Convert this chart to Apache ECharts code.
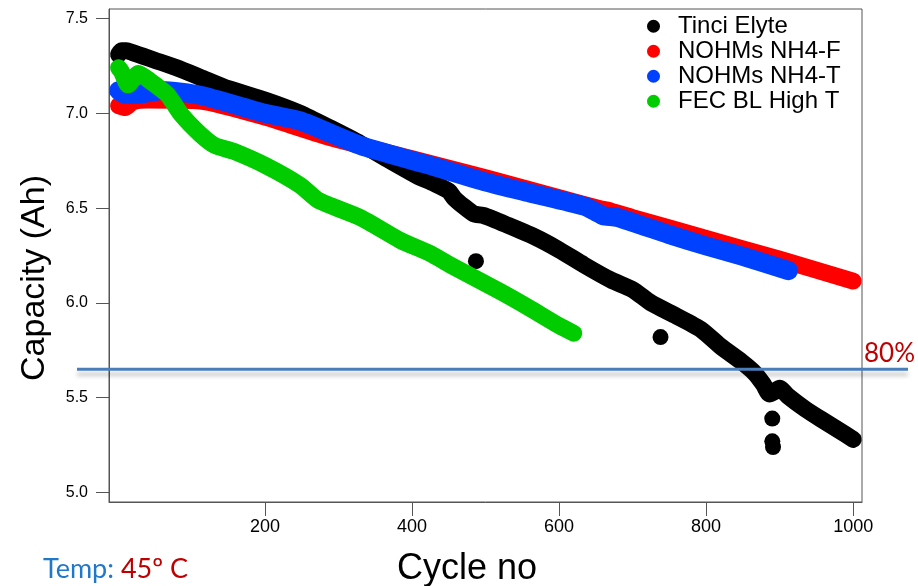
<!DOCTYPE html>
<html><head><meta charset="utf-8">
<script src="https://cdn.jsdelivr.net/npm/echarts@6/dist/echarts.min.js"></script>
<style>html,body{margin:0;padding:0;background:#fff}#c{width:918px;height:586px}</style>
</head><body><div id="c"></div>
<script>
// ---- data ----
const seriesNames = ['Tinci Elyte', 'NOHMs NH4-F', 'NOHMs NH4-T', 'FEC BL High T'];
const seriesColors = ['#000000', '#ff0000', '#0040ff', '#00cc00'];
const xTicks = [200, 400, 600, 800, 1000];
const yTicks = [5.0, 5.5, 6.0, 6.5, 7.0, 7.5];
const refLevel = 5.65;   // 80% line
const refLabel = '80%';

const tinciElyte = [[1,7.31],[5,7.33],[12,7.33],[20,7.32],[35,7.30],[50,7.28],[80,7.24],[112,7.19],[150,7.13],[200,7.07],[248,7.00],[290,6.92],[330,6.84],[370,6.75],[407,6.67],[430,6.63],[450,6.59],[458,6.55],[470,6.51],[484,6.47],[498,6.46],[530,6.41],[566,6.35],[600,6.28],[634,6.20],[671,6.12],[700,6.07],[725,6.00],[760,5.93],[793,5.86],[820,5.77],[848,5.69],[866,5.63],[878,5.57],[886,5.52],[892,5.53],[900,5.55],[911,5.51],[935,5.44],[957,5.385],[980,5.33],[1000,5.28]];
const tinciOutliers = [[487,6.22],[738,5.82],[890,5.39],[890,5.27],[891,5.24]];
const nohmsF = [[1,7.04],[10,7.03],[20,7.06],[40,7.07],[112,7.065],[200,6.98],[290,6.87],[400,6.76],[500,6.66],[600,6.555],[657,6.495],[665,6.49],[700,6.45],[800,6.34],[900,6.23],[1000,6.115]];
const nohmsT = [[1,7.12],[10,7.10],[25,7.10],[60,7.12],[112,7.095],[200,7.00],[248,6.96],[330,6.83],[420,6.73],[498,6.64],[560,6.58],[634,6.51],[650,6.48],[660,6.46],[680,6.45],[750,6.36],[800,6.30],[850,6.245],[912,6.17]];
const fecBL = [[1,7.24],[5,7.22],[14,7.15],[28,7.21],[44,7.17],[67,7.10],[87,6.99],[112,6.89],[132,6.83],[157,6.80],[203,6.72],[248,6.62],[273,6.54],[330,6.45],[384,6.33],[425,6.26],[452,6.20],[520,6.06],[561,5.97],[600,5.88],[620,5.84]];

// ---- chart ----
const FONT = "'Liberation Sans', Arial, sans-serif";
const chart = echarts.init(document.getElementById('c'), null, {renderer: 'canvas'});
function bandLine(name, data, color, width) {
  return {
    name, type: 'line', data, color, showSymbol: false, symbol: 'circle', silent: true, smooth: 0.2,
    lineStyle: {color, width, cap: 'round', join: 'round', opacity: 1},
    itemStyle: {color}
  };
}
const option = {
  animation: false,
  backgroundColor: '#ffffff',
  grid: {left: 109, right: 56, top: 9, bottom: 84, show: true, borderColor: '#555', borderWidth: 1},
  legend: {
    data: seriesNames, orient: 'vertical', left: 642, top: 9, icon: 'circle',
    itemWidth: 13, itemHeight: 13, itemGap: 0.5,
    textStyle: {fontFamily: FONT, fontSize: 24, color: '#000', lineHeight: 24.5, padding: [0, 0, 0, 13]}
  },
  xAxis: {
    type: 'value', min: -12, max: 1012,
    axisLine: {show: true, onZero: false, lineStyle: {color: '#555', width: 1}},
    axisTick: {show: true, length: 14, lineStyle: {color: '#555'}, customValues: xTicks},
    axisLabel: {customValues: xTicks, margin: 16, fontFamily: "'Liberation Sans Narrow', 'Liberation Sans', Arial", fontSize: 18, color: '#000', formatter: v => String(v)},
    splitLine: {show: false}
  },
  yAxis: {
    type: 'value', min: 4.95, max: 7.55,
    axisLine: {show: true, onZero: false, lineStyle: {color: '#555', width: 1}},
    axisTick: {show: true, length: 13, lineStyle: {color: '#555'}, customValues: yTicks},
    axisLabel: {customValues: yTicks, margin: 21, fontFamily: FONT, fontSize: 16, color: '#000', formatter: v => v.toFixed(1)},
    splitLine: {show: false}
  },
  series: [
    bandLine(seriesNames[0], tinciElyte, seriesColors[0], 17),
    {name: seriesNames[0], type: 'scatter', data: tinciOutliers, symbolSize: 16, silent: true, itemStyle: {color: seriesColors[0], opacity: 1}},
    bandLine(seriesNames[1], nohmsF, seriesColors[1], 17),
    bandLine(seriesNames[2], nohmsT, seriesColors[2], 19),
    bandLine(seriesNames[3], fecBL, seriesColors[3], 17)
  ]
};
chart.setOption(option);

const refY = chart.convertToPixel({yAxisIndex: 0}, refLevel);
chart.setOption({
  graphic: [
    {type: 'line', silent: true, z: 100,
     shape: {x1: 77, y1: refY, x2: 908, y2: refY},
     style: {stroke: '#4a7ebb', lineWidth: 3, shadowColor: 'rgba(0,0,0,0.25)', shadowBlur: 4, shadowOffsetY: 5}},
    {type: 'text', silent: true, z: 100, left: 864, top: refY - 29,
     style: {text: refLabel, fill: '#c00000', font: "26px Lato, 'Open Sans', sans-serif"}},
    {type: 'text', silent: true, x: 35, y: 278, rotation: Math.PI / 2,
     style: {text: 'Capacity (Ah)', fill: '#000', font: '34px ' + FONT, textAlign: 'center', textVerticalAlign: 'middle'}},
    {type: 'text', silent: true, x: 467, y: 569,
     style: {text: 'Cycle no', fill: '#000', font: '36px ' + FONT, textAlign: 'center', textVerticalAlign: 'middle'}},
    {type: 'text', silent: true, left: 43, top: 556,
     style: {rich: {a: {fill: '#1f78c8', font: "27px Lato, sans-serif"}, b: {fill: '#c00000', font: "27px Lato, sans-serif"}},
             text: '{a|Temp: }{b|45º C}'}}
  ]
});
</script></body></html>
